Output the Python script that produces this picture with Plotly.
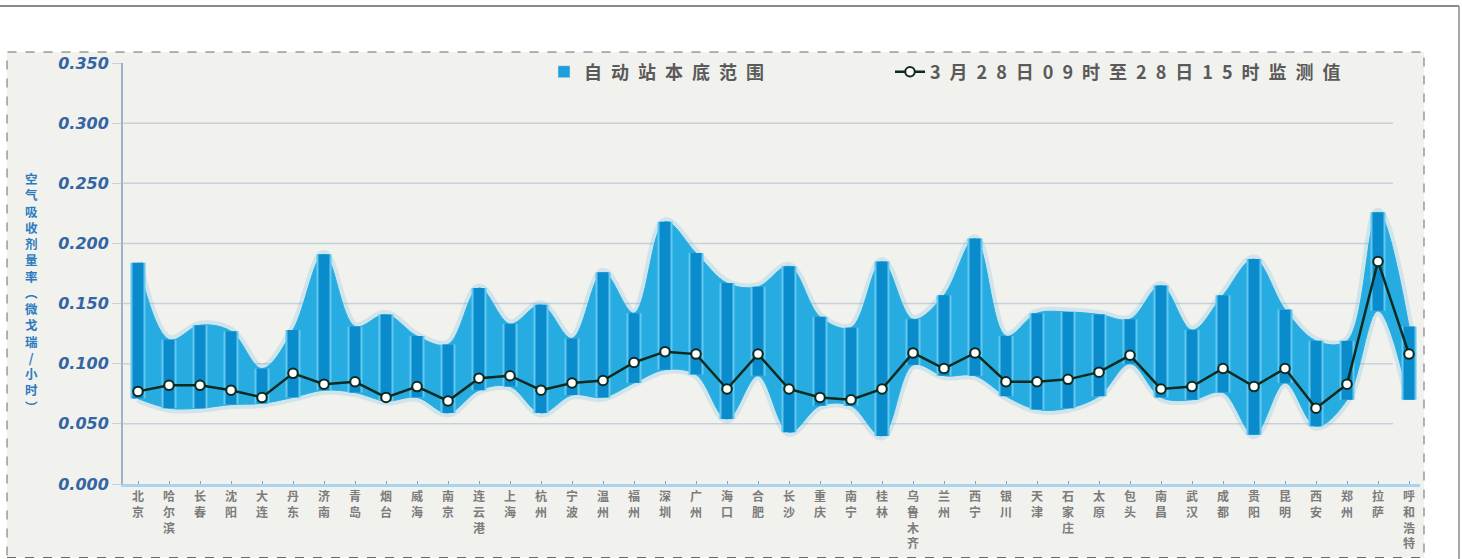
import plotly.graph_objects as go

cities = ['北京', '哈尔滨', '长春', '沈阳', '大连', '丹东', '济南', '青岛', '烟台', '威海',
          '南京', '连云港', '上海', '杭州', '宁波', '温州', '福州', '深圳', '广州', '海口',
          '合肥', '长沙', '重庆', '南宁', '桂林', '乌鲁木齐', '兰州', '西宁', '银川', '天津',
          '石家庄', '太原', '包头', '南昌', '武汉', '成都', '贵阳', '昆明', '西安', '郑州',
          '拉萨', '呼和浩特']

range_high = [0.184, 0.120, 0.132, 0.127, 0.096, 0.128, 0.191, 0.131, 0.141, 0.123,
              0.116, 0.163, 0.133, 0.149, 0.121, 0.176, 0.142, 0.218, 0.192, 0.167,
              0.164, 0.181, 0.139, 0.130, 0.185, 0.137, 0.157, 0.204, 0.123, 0.142,
              0.143, 0.141, 0.137, 0.165, 0.128, 0.157, 0.187, 0.145, 0.119, 0.119,
              0.226, 0.131]

range_low = [0.071, 0.063, 0.063, 0.066, 0.067, 0.072, 0.078, 0.076, 0.069, 0.072,
             0.059, 0.078, 0.081, 0.059, 0.074, 0.072, 0.084, 0.095, 0.091, 0.054,
             0.090, 0.043, 0.065, 0.065, 0.040, 0.099, 0.090, 0.090, 0.073, 0.062,
             0.063, 0.073, 0.100, 0.072, 0.070, 0.076, 0.041, 0.084, 0.048, 0.070,
             0.144, 0.070]

measured = [0.077, 0.082, 0.082, 0.078, 0.072, 0.092, 0.083, 0.085, 0.072, 0.081,
            0.069, 0.088, 0.090, 0.078, 0.084, 0.086, 0.101, 0.110, 0.108, 0.079,
            0.108, 0.079, 0.072, 0.070, 0.079, 0.109, 0.096, 0.109, 0.085, 0.085,
            0.087, 0.093, 0.107, 0.079, 0.081, 0.096, 0.081, 0.096, 0.063, 0.083,
            0.185, 0.108]

y_ticks = [0.0, 0.05, 0.1, 0.15, 0.2, 0.25, 0.3, 0.35]
y_title = '空气吸收剂量率︵微戈瑞/小时︶'
legend_range = '自动站本底范围'
legend_line = '3月28日09时至28日15时监测值'

# pixel geometry helpers (layout only)
W, H = 1462, 559
L, R, T, B = 123, 1420, 63, 484


def px(xp):
    return (xp - L) / (R - L)


def py(yp):
    return (B - yp) / (B - T)


def spaced(s):
    # the legend lettering is widely tracked in the original
    return '\u2002'.join(list(s))


x_idx = list(range(len(cities)))
tick_text = ['<br>'.join(list(c)) for c in cities]

# vertical bar segments built from the low/high arrays
seg_x, seg_y = [], []
for i, lo, hi in zip(x_idx, range_low, range_high):
    seg_x += [i, i, None]
    seg_y += [lo, hi, None]

band = '#27ace2'
dark = '#0a8bcb'

fig = go.Figure()

# soft glow behind band
for arr in (range_low, range_high):
    fig.add_trace(go.Scatter(x=x_idx, y=arr, mode='lines',
                             line=dict(color='rgba(40,170,225,0.16)', width=9, shape='spline'),
                             showlegend=False, hoverinfo='skip'))
# band
fig.add_trace(go.Scatter(x=x_idx, y=range_low, mode='lines', line=dict(color=band, width=1, shape='spline'),
                         showlegend=False, hoverinfo='skip'))
fig.add_trace(go.Scatter(x=x_idx, y=range_high, mode='lines', line=dict(color=band, width=1, shape='spline'),
                         fill='tonexty', fillcolor=band, showlegend=False, hoverinfo='skip'))
# light stripes + dark bars
fig.add_trace(go.Scatter(x=seg_x, y=seg_y, mode='lines', line=dict(color='#62c8f0', width=15),
                         showlegend=False, hoverinfo='skip'))
fig.add_trace(go.Scatter(x=seg_x, y=seg_y, mode='lines', line=dict(color=dark, width=11),
                         showlegend=False, hoverinfo='skip'))
# legend entry for the range (square symbol)
fig.add_trace(go.Bar(x=[None], y=[None], name=spaced(legend_range), marker=dict(color='#1c9fdc'),
                     legend='legend', showlegend=True))
# measured line
fig.add_trace(go.Scatter(x=x_idx, y=measured, mode='lines+markers', name=spaced(legend_line),
                         line=dict(color='#0d2a1f', width=2.5),
                         marker=dict(size=9.5, color='white', line=dict(color='#0d2a1f', width=2)),
                         legend='legend2', showlegend=True))

shapes = []
# outer frame lines
shapes.append(dict(type='line', xref='paper', yref='paper', x0=px(0), x1=px(1459), y0=py(6), y1=py(6),
                   line=dict(color='#8a8a8a', width=2), layer='below'))
shapes.append(dict(type='line', xref='paper', yref='paper', x0=px(1459), x1=px(1459), y0=py(6), y1=py(559),
                   line=dict(color='#8a8a8a', width=1.5), layer='below'))
# inner dashed box
shapes.append(dict(type='rect', xref='paper', yref='paper', x0=px(7), x1=px(1424), y0=py(557.5), y1=py(52),
                   fillcolor='#f1f1ed', line=dict(color='#6a6a6a', width=1, dash='dash'), layer='below'))
# gridlines
for v in y_ticks[1:-1]:
    shapes.append(dict(type='line', xref='paper', yref='y', x0=0, x1=px(1393), y0=v, y1=v,
                       line=dict(color='#c6d1db', width=1.5), layer='below'))

annotations = [dict(text='<br>'.join(list(y_title)), xref='paper', yref='paper', x=px(31), y=py(292),
                    showarrow=False, font=dict(size=12.5, color='#2b7bc0', family='Noto Sans CJK SC', weight='bold'),
                    xanchor='center', yanchor='middle')]

legend_font = dict(size=18, color='#5a5a5a', weight='bold', family='Noto Sans CJK SC')
fig.update_layout(
    width=W, height=H,
    margin=dict(l=L, r=W - R, t=T, b=H - B, autoexpand=False),
    paper_bgcolor='white', plot_bgcolor='rgba(0,0,0,0)',
    shapes=shapes, annotations=annotations,
    font=dict(family='Noto Sans CJK SC'),
    legend=dict(orientation='h', x=px(544), y=py(72), xanchor='left', yanchor='middle',
                bgcolor='rgba(0,0,0,0)', font=legend_font),
    legend2=dict(orientation='h', x=px(890), y=py(72), xanchor='left', yanchor='middle',
                 bgcolor='rgba(0,0,0,0)', font=legend_font),
)

fig.update_xaxes(range=[(L - 138) / 31.0, 41 + (R - 1409) / 31.0], tickmode='array', tickvals=x_idx, ticktext=tick_text,
                 tickfont=dict(size=12, color='#7c7c7c', family='Noto Sans CJK SC', weight='bold'),
                 showline=True, linecolor='#a9d3ef', linewidth=3, ticks='inside', ticklen=3, tickcolor='#6fa6d0',
                 showgrid=False, zeroline=False, fixedrange=True, automargin=False)
fig.update_yaxes(range=[0, 0.35], tickmode='array', tickvals=y_ticks, ticktext=['%.3f' % v for v in y_ticks],
                 tickfont=dict(size=16, color='#3465a4', family='DejaVu Sans', weight='bold', style='italic'),
                 showline=True, linecolor='#9fb3c8', linewidth=2, ticks='outside', ticklen=9, tickcolor='#c6d1db',
                 showgrid=False, zeroline=False, fixedrange=True, automargin=False)

post = "document.body.style.margin='0';"

fig.write_html('out.html', post_script=post, config={'displayModeBar': False})
